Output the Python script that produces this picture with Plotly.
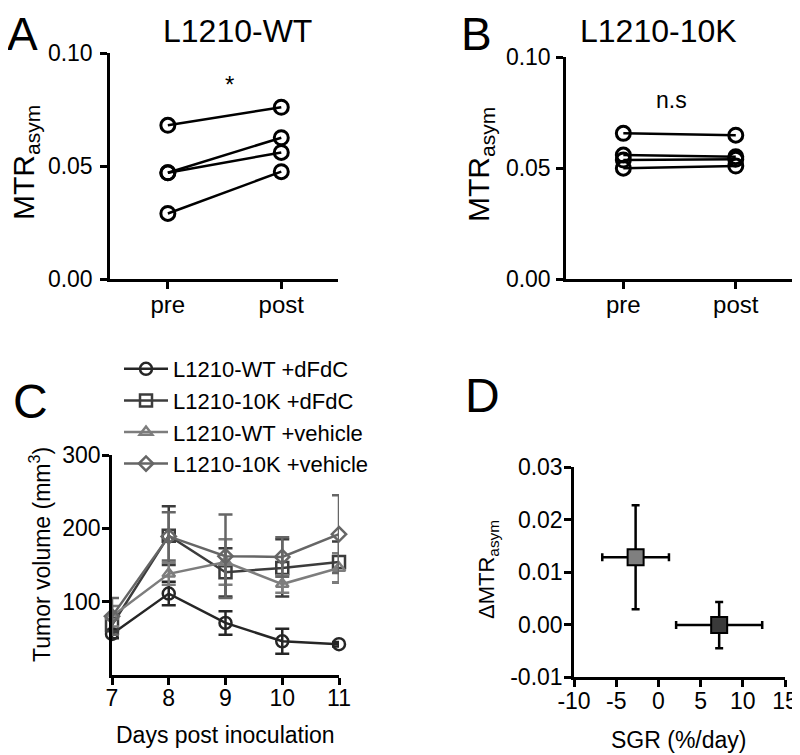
import plotly.graph_objects as go

# reference picture size; the page body adds an 8px margin, so the figure
# itself is drawn 8px smaller and all positions are shifted by that offset
W, H = 800, 755
OFF = 8
FW, FH = W - OFF, H - OFF
FONT = "Liberation Sans, Arial, sans-serif"

# panel A: L1210-WT, MTRasym per mouse before/after dFdC
phase = ["pre", "post"]
wt_pre = [0.068, 0.047, 0.047, 0.029]
wt_post = [0.076, 0.0625, 0.056, 0.0475]

# panel B: L1210-10K
k10_pre = [0.0656, 0.0558, 0.0536, 0.0499]
k10_post = [0.0648, 0.0551, 0.0539, 0.0509]

# panel C: tumour volume (mm3), mean and error per day
days = [7, 8, 9, 10, 11]
groups = ["L1210-WT +dFdC", "L1210-10K +dFdC", "L1210-WT +vehicle", "L1210-10K +vehicle"]
vol_wt_dfdc = [56, 111, 71, 46, 42]
err_wt_dfdc = [6, 16, 16, 17, 3]
vol_k10_dfdc = [68, 190, 140, 146, 154]
err_k10_dfdc = [10, 40, 33, 39, 28]
vol_wt_veh = [80, 138, 154, 124, 146]
err_wt_veh = [14, 15, 31, 12, 20]
vol_k10_veh = [80, 189, 162, 161, 192]
err_k10_veh = [25, 33, 57, 27, 53]

# panel D: delta MTRasym vs specific growth rate
sgr = [-2.7, 7.2]
sgr_err = [3.95, 5.1]
dmtr = [0.0128, -0.0001]
dmtr_err = [0.0099, 0.0044]
sgr_ticks = [-10, -5, 0, 5, 10, 15]
dmtr_ticks = [-0.01, 0, 0.01, 0.02, 0.03]


def px(x):
    return (x - OFF) / FW


def py(y):
    return 1 - (y - OFF) / FH


def dom_x(left, right):
    return [px(left), px(right)]


def dom_y(top, bottom):
    return [py(bottom), py(top)]


def axis(size=23, standoff=3, **kw):
    base = dict(
        showline=True, linewidth=2.5, linecolor="black",
        ticks="outside", ticklen=7, tickwidth=2.5, tickcolor="black",
        showgrid=False, zeroline=False, automargin=False,
        ticklabelstandoff=standoff,
        tickfont=dict(size=size, color="black", family=FONT),
    )
    base.update(kw)
    return base


fig = go.Figure()

for pre, post in zip(wt_pre, wt_post):
    fig.add_trace(go.Scatter(
        x=phase, y=[pre, post], mode="lines+markers", showlegend=False,
        line=dict(color="black", width=2.5),
        marker=dict(symbol="circle-open", size=14, color="black", line=dict(width=3)),
        xaxis="x", yaxis="y", cliponaxis=False,
    ))

for pre, post in zip(k10_pre, k10_post):
    fig.add_trace(go.Scatter(
        x=phase, y=[pre, post], mode="lines+markers", showlegend=False,
        line=dict(color="black", width=2.5),
        marker=dict(symbol="circle-open", size=14, color="black", line=dict(width=3)),
        xaxis="x2", yaxis="y2", cliponaxis=False,
    ))

series_c = [
    (vol_wt_dfdc, err_wt_dfdc, "circle-open", "#262626", 12),
    (vol_k10_dfdc, err_k10_dfdc, "square-open", "#3c3c3c", 12),
    (vol_wt_veh, err_wt_veh, "triangle-up-open", "#7d7d7d", 11),
    (vol_k10_veh, err_k10_veh, "diamond-open", "#666666", 11),
]
for name, (vals, errs, sym, col, size) in zip(groups, series_c):
    fig.add_trace(go.Scatter(
        x=days, y=vals, name=name, mode="lines+markers",
        line=dict(color=col, width=2.5),
        marker=dict(symbol=sym, size=size, color=col, line=dict(width=2.5)),
        error_y=dict(type="data", array=errs, color=col, thickness=2.5, width=7),
        xaxis="x3", yaxis="y3", cliponaxis=False,
    ))

fig.add_trace(go.Scatter(
    x=sgr, y=dmtr, mode="markers", showlegend=False,
    marker=dict(symbol="square", size=16, color=["#7f7f7f", "#3a3a3a"],
                line=dict(color="black", width=2)),
    error_x=dict(type="data", array=sgr_err, color="black", thickness=2.5, width=4),
    error_y=dict(type="data", array=dmtr_err, color="black", thickness=2.5, width=4),
    xaxis="x4", yaxis="y4", cliponaxis=False,
))

annotations = []


def note(text, x, y, size, angle=0):
    annotations.append(dict(
        text=text, x=px(x), y=py(y), xref="paper", yref="paper",
        showarrow=False, textangle=angle, xanchor="center", yanchor="middle",
        font=dict(size=size, color="black", family=FONT),
    ))


note("A", 22, 34, 46)
note("B", 476, 34, 46)
note("C", 30, 401, 48)
note("D", 482, 395, 48)
note("L1210-WT", 237, 31, 32)
note("L1210-10K", 658, 31, 32)
note("MTR<sub>asym</sub>", 25, 163, 30, -90)
note("MTR<sub>asym</sub>", 481, 165, 30, -90)
note("*", 229, 85, 24)
note("n.s", 671, 100, 23)
note("Tumor volume (mm<sup>3</sup>)", 40, 555, 23, -90)
note("Days post inoculation", 225, 735, 23)
note("ΔMTR<sub>asym</sub>", 488, 570, 22, -90)
note("SGR (%/day)", 678, 740, 23)

fig.update_layout(
    template="none",
    width=FW, height=FH, autosize=False,
    margin=dict(l=0, r=0, t=0, b=0, autoexpand=False),
    paper_bgcolor="white", plot_bgcolor="white",
    font=dict(family=FONT, color="black"),
    xaxis=axis(24, -5, domain=dom_x(110, 338), range=[-0.51, 1.5], anchor="y"),
    yaxis=axis(23, 3, domain=dom_y(53, 279), range=[0, 0.1], anchor="x",
               tickvals=[0, 0.05, 0.1], ticktext=["0.00", "0.05", "0.10"]),
    xaxis2=axis(24, -5, domain=dom_x(566, 792), range=[-0.51, 1.5], anchor="y2"),
    yaxis2=axis(23, 1, domain=dom_y(57, 279), range=[0, 0.1], anchor="x2",
                tickvals=[0, 0.05, 0.1], ticktext=["0.00", "0.05", "0.10"]),
    xaxis3=axis(23, -6, domain=dom_x(112, 339), range=[7, 11], anchor="y3",
                tickvals=days),
    yaxis3=axis(23, -3, domain=dom_y(455, 675), range=[0, 300], anchor="x3",
                tickvals=[100, 200, 300]),
    xaxis4=axis(23, -5, domain=dom_x(574, 785), range=[-10, 15], anchor="y4",
                tickvals=sgr_ticks, ticktext=[f"{v:d}" for v in sgr_ticks]),
    yaxis4=axis(23, -3, domain=dom_y(467, 677), range=[-0.01, 0.03], anchor="x4",
                tickvals=dmtr_ticks, ticktext=[f"{v:.2f}" for v in dmtr_ticks]),
    showlegend=True,
    legend=dict(x=px(119), y=py(348), xanchor="left", yanchor="top",
                bgcolor="rgba(0,0,0,0)", borderwidth=0,
                font=dict(size=22, color="black", family=FONT),
                itemwidth=44),
    annotations=annotations,
)

fig.write_html("out.html")
